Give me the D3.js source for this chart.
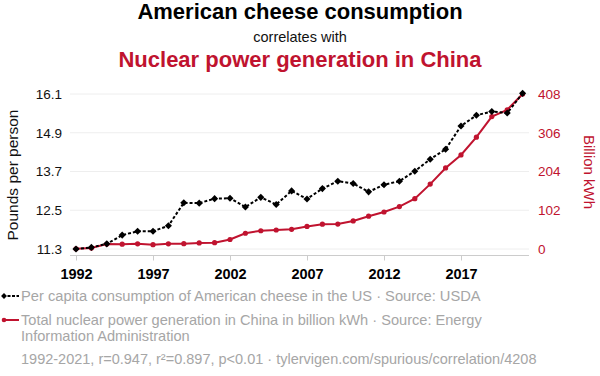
<!DOCTYPE html>
<html>
<head>
<meta charset="utf-8">
<script src="https://cdn.jsdelivr.net/npm/d3@7"></script>
<style>
  body { margin: 0; background: #fff; }
  text { font-family: "Liberation Sans", Arial, sans-serif; }
</style>
</head>
<body>
<svg id="chart" width="600" height="376"></svg>
<script>
// data
const years = d3.range(1992, 2022);
const cheese = [11.30, 11.35, 11.46, 11.73, 11.85, 11.85, 12.02, 12.73, 12.72, 12.86,
  12.87, 12.60, 12.90, 12.68, 13.10, 12.85, 13.17, 13.40, 13.33, 13.07,
  13.29, 13.40, 13.71, 14.08, 14.39, 15.11, 15.44, 15.56, 15.51, 16.12];
const nuclear = [0.5, 2.5, 13, 12.8, 13.6, 11.4, 13.5, 14.1, 15.9, 16.7,
  25, 41.5, 48, 50, 51.8, 59.3, 65.3, 65.7, 73.9, 86.4,
  97.4, 111.6, 132.5, 170.8, 213.3, 247.5, 294.4, 348.7, 366.4, 408];
const leftTicks = [11.3, 12.5, 13.7, 14.9, 16.1];
const rightTicks = [0, 102, 204, 306, 408];
const xTicks = [1992, 1997, 2002, 2007, 2012, 2017];

const red = "#c0132f";
const svg = d3.select("#chart");

const x = d3.scaleLinear().domain([1992, 2021]).range([76, 522.6]);
const yL = d3.scaleLinear().domain([11.3, 16.1]).range([249, 94]);
const yR = d3.scaleLinear().domain([0, 408]).range([249, 94]);

// titles
svg.append("text").attr("x", 300).attr("y", 19).attr("text-anchor", "middle")
  .attr("font-size", "22px").attr("font-weight", "bold").attr("fill", "#000")
  .text("American cheese consumption");
svg.append("text").attr("x", 300).attr("y", 42).attr("text-anchor", "middle")
  .attr("font-size", "14.5px").attr("fill", "#111")
  .text("correlates with");
svg.append("text").attr("x", 300).attr("y", 67).attr("text-anchor", "middle")
  .attr("font-size", "22px").attr("font-weight", "bold").attr("fill", red)
  .text("Nuclear power generation in China");

// gridlines
svg.append("g").selectAll("line").data(leftTicks).join("line")
  .attr("x1", 70).attr("x2", 529)
  .attr("y1", d => yL(d)).attr("y2", d => yL(d))
  .attr("stroke", "#eeeeee").attr("stroke-width", 1);

// bottom axis
const xAxis = svg.append("g").attr("transform", "translate(0,255.5)")
  .call(d3.axisBottom(x).tickValues(xTicks).tickFormat(d3.format("d")).tickSize(5).tickSizeOuter(0));
xAxis.select(".domain").attr("d", "M70,0H529").attr("stroke", "#ccc");
xAxis.selectAll(".tick line").attr("stroke", "#ccc");
xAxis.selectAll(".tick text").attr("font-size", "14.5px").attr("font-weight", "bold")
  .attr("fill", "#000").attr("dy", "1.1em").style("font-family", "Liberation Sans, Arial, sans-serif");

// left axis
const lAxis = svg.append("g").attr("transform", "translate(70,0)")
  .call(d3.axisLeft(yL).tickValues(leftTicks).tickFormat(d3.format(".1f")).tickSize(0).tickPadding(8));
lAxis.select(".domain").remove();
lAxis.selectAll(".tick text").attr("font-size", "13.5px").attr("fill", "#111")
  .style("font-family", "Liberation Sans, Arial, sans-serif");

// right axis
const rAxis = svg.append("g").attr("transform", "translate(529,0)")
  .call(d3.axisRight(yR).tickValues(rightTicks).tickSize(0).tickPadding(9));
rAxis.select(".domain").remove();
rAxis.selectAll(".tick text").attr("font-size", "13.5px").attr("fill", red)
  .style("font-family", "Liberation Sans, Arial, sans-serif");

// axis titles
svg.append("text").attr("transform", "translate(18,175) rotate(-90)").attr("text-anchor", "middle")
  .attr("font-size", "15.5px").attr("fill", "#111").text("Pounds per person");
svg.append("text").attr("transform", "translate(584,172) rotate(90)").attr("text-anchor", "middle")
  .attr("font-size", "15px").attr("fill", red).text("Billion kWh");

// red series
const redLine = d3.line().x((d, i) => x(years[i])).y(d => yR(d));
svg.append("path").datum(nuclear).attr("d", redLine)
  .attr("fill", "none").attr("stroke", red).attr("stroke-width", 2);
svg.append("g").selectAll("circle").data(nuclear).join("circle")
  .attr("cx", (d, i) => x(years[i])).attr("cy", d => yR(d)).attr("r", 2.6).attr("fill", red);

// black series
const blackLine = d3.line().x((d, i) => x(years[i])).y(d => yL(d));
svg.append("path").datum(cheese).attr("d", blackLine)
  .attr("fill", "none").attr("stroke", "#000").attr("stroke-width", 2).attr("stroke-dasharray", "3,2");
const diamond = d3.symbol().type(d3.symbolDiamond2).size(32);
svg.append("g").selectAll("path").data(cheese).join("path")
  .attr("transform", (d, i) => `translate(${x(years[i])},${yL(d)})`)
  .attr("d", diamond).attr("fill", "#000");

// legend
const grey = "#a6a6a6";
svg.append("line").attr("x1", 3).attr("x2", 19).attr("y1", 296).attr("y2", 296)
  .attr("stroke", "#000").attr("stroke-width", 2).attr("stroke-dasharray", "3,1.5");
svg.append("path").attr("transform", "translate(4,296)").attr("d", d3.symbol().type(d3.symbolDiamond2).size(22)).attr("fill", "#000");
svg.append("text").attr("x", 21).attr("y", 301).attr("font-size", "14.7px").attr("fill", grey)
  .text("Per capita consumption of American cheese in the US · Source: USDA");

svg.append("line").attr("x1", 3).attr("x2", 19).attr("y1", 320).attr("y2", 320)
  .attr("stroke", red).attr("stroke-width", 2);
svg.append("circle").attr("cx", 4).attr("cy", 320).attr("r", 2.3).attr("fill", red);
svg.append("text").attr("x", 21).attr("y", 325).attr("font-size", "14.6px").attr("fill", grey)
  .text("Total nuclear power generation in China in billion kWh · Source: Energy");
svg.append("text").attr("x", 21).attr("y", 341).attr("font-size", "14.6px").attr("fill", grey)
  .text("Information Administration");

svg.append("text").attr("x", 21).attr("y", 364).attr("font-size", "14.5px").attr("fill", grey)
  .text("1992-2021, r=0.947, r²=0.897, p<0.01 · tylervigen.com/spurious/correlation/4208");
</script>
</body>
</html>
